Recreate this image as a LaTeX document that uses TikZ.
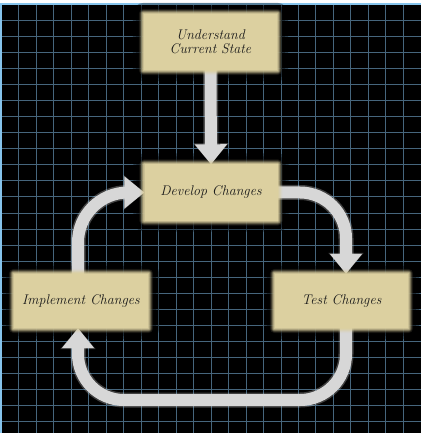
\documentclass[tikz,border=0pt]{standalone}
\usetikzlibrary{arrows.meta}

\definecolor{paper}{HTML}{DCD0A0}
\definecolor{gridline}{HTML}{46667D}
\definecolor{frameblue}{HTML}{86C4EC}
\definecolor{arrowgray}{HTML}{D7D7D7}
\definecolor{inkdark}{HTML}{1A1A1A}

\pgfdeclarelayer{grid}
\pgfdeclarelayer{shade}
\pgfdeclarelayer{flow}
\pgfdeclarelayer{glow}
\pgfsetlayers{grid,shade,flow,glow,main}

\tikzset{
  stage/.style={fill=paper, text=inkdark,
    font=\itshape\fontsize{14bp}{13.5bp}\selectfont,
    align=center, inner sep=0pt, minimum width=133bp, minimum height=56bp},
  flowline/.style={draw=arrowgray, line width=12bp, rounded corners=46bp,
    -{Triangle[width=31bp,length=20bp]},
    preaction={draw=arrowgray, line width=15bp, opacity=0.3, -{Triangle[width=34bp,length=21bp]}}},
  gridrule/.style={draw=gridline, line width=1bp},
  framerule/.style={draw=frameblue, line width=2bp},
}

% dark shadow and soft beige edge around a stage box
\newcommand\softbox[1]{%
  \begin{pgfonlayer}{shade}
    \foreach \d in {11,8,5}{
      \fill[black, opacity=0.35, rounded corners=\d bp]
        ([shift={(-\d,-\d)}]#1.north west) rectangle ([shift={(\d,\d)}]#1.south east);
    }
  \end{pgfonlayer}
  \begin{pgfonlayer}{glow}
    \foreach \d/\o in {1/0.7,2/0.5,3/0.35,4/0.2,5/0.1}{
      \fill[paper, opacity=\o, rounded corners=\d bp]
        ([shift={(-\d,-\d)}]#1.north west) rectangle ([shift={(\d,\d)}]#1.south east);
    }
  \end{pgfonlayer}%
}

\begin{document}
\begin{tikzpicture}[x=1bp, y=-1bp]
  \useasboundingbox (0,0) rectangle (421,433);

  % backdrop and blueprint grid
  \begin{pgfonlayer}{grid}
    \fill[white] (0,0) rectangle (421,433);
    \fill[black] (0,4) rectangle (421,433);
    \foreach \i in {0,...,23}{
      \draw[gridrule] (1.5+17.47*\i, 5) -- (1.5+17.47*\i, 433);
    }
    \foreach \j in {0,...,26}{
      \draw[gridrule] (0, 5+16*\j) -- (421, 5+16*\j);
    }
    \draw[framerule] (0,4.5) -- (421,4.5);
    \draw[framerule] (1,4) -- (1,433);
  \end{pgfonlayer}

  % stages
  \node[stage] (understand) at (210.5,42) {Understand\\Current State};
  \node[stage] (develop) at (211,192.5) {Develop Changes};
  \node[stage, minimum width=134bp, minimum height=54bp] (implement) at (81,301) {Implement Changes};
  \node[stage, minimum width=133bp, minimum height=54bp] (test) at (341.5,301) {Test Changes};

  \softbox{understand}
  \softbox{develop}
  \softbox{implement}
  \softbox{test}

  % corners of the cycle
  \coordinate (dtcorner) at (346,192.5);
  \coordinate (tbcorner) at (346,400);
  \coordinate (ibcorner) at (78,400);
  \coordinate (idcorner) at (78,192.5);

  \begin{pgfonlayer}{flow}
    \draw[flowline] (understand.south) -- (develop.north);
    \draw[flowline] (develop.east) -- (dtcorner) -- (dtcorner |- test.north);
    \draw[flowline] (tbcorner |- test.south) -- (tbcorner) -- (ibcorner) -- (ibcorner |- implement.south);
    \draw[flowline, rounded corners=50bp] (idcorner |- implement.north) -- (idcorner) -- (develop.west);
  \end{pgfonlayer}
\end{tikzpicture}
\end{document}
